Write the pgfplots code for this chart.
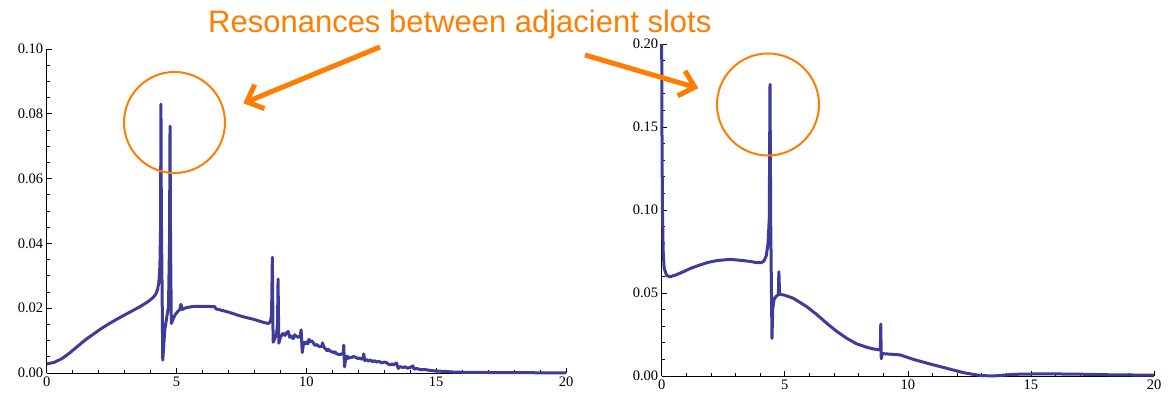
\documentclass[border=0pt]{standalone}
\usepackage{fontspec}
\setmainfont{Liberation Serif}
\newfontfamily\arialfont{Liberation Sans}
\newfontfamily\timesfont{Liberation Serif}
\usepackage{pgfplots}
\pgfplotsset{compat=1.18}
\usetikzlibrary{arrows.meta}
\definecolor{mathblue}{rgb}{0.24,0.24,0.6}
\definecolor{annorange}{RGB}{255,125,0}

\pgfplotsset{mstyle/.style={
  scale only axis, anchor=south west,
  axis x line=bottom, axis y line=left,
  axis line style={-, black, line width=0.7pt},
  tick align=inside, major tick length=5pt, minor tick length=3pt,
  tick style={black, line width=0.6pt},
  xmin=0, xmax=20, ymin=0, clip=false,
  xtick={0,5,10,15,20}, minor x tick num=4,
  scaled y ticks=false,
  /pgf/number format/assume math mode=true,
  xticklabel={\timesfont\pgfmathprintnumber[assume math mode=true]{\tick}},
  yticklabel={\timesfont\pgfmathprintnumber[assume math mode=true,fixed,fixed zerofill,precision=2]{\tick}},
  tick label style={font=\timesfont\fontsize{14.5}{16}\selectfont},
}}

\begin{document}
\begin{tikzpicture}[x=1pt,y=1pt]
\useasboundingbox (0,0) rectangle (1171,398);

\begin{axis}[mstyle, at={(46.7pt,25pt)}, width=519.3pt, height=324pt, ymax=0.1,
  ytick={0,0.02,0.04,0.06,0.08,0.1}, minor y tick num=3]
\addplot[mathblue, line width=3pt, line join=round, no marks] coordinates {
(0,0.0028) (0.3,0.0033) (0.6,0.0045) (0.9,0.0063) (1.2,0.0083) (1.5,0.0103)
(1.8,0.0120) (2.1,0.0137) (2.4,0.0152) (2.7,0.0166) (3.0,0.0179) (3.3,0.0192)
(3.6,0.0205) (3.9,0.0220) (4.1,0.0233) (4.2,0.0243)
(4.27,0.0258) (4.32,0.0280) (4.36,0.0330) (4.385,0.0450) (4.40,0.0830) (4.415,0.0500)
(4.47,0.0040) (4.55,0.0135) (4.62,0.0170) (4.69,0.0205) (4.73,0.0400) (4.75,0.0762)
(4.77,0.0400) (4.80,0.0153) (4.86,0.0165) (4.95,0.0180) (5.05,0.0190) (5.12,0.0195)
(5.17,0.0212) (5.22,0.0196) (5.35,0.0201) (5.6,0.0205) (6.0,0.0206) (6.4,0.0205)
(6.47,0.0205) (6.52,0.0198) (7.0,0.0188) (7.5,0.0175) (8.0,0.0165) (8.4,0.0155)
(8.55,0.0153) (8.62,0.0160) (8.66,0.0180) (8.69,0.0357) (8.72,0.0095) (8.78,0.0105)
(8.85,0.0120) (8.89,0.0150) (8.91,0.0290) (8.94,0.0092) (9.0,0.0110) (9.1,0.0122)
(9.18,0.0116) (9.23,0.0124) (9.3,0.0128) (9.36,0.0110) (9.42,0.0114) (9.49,0.0106)
(9.55,0.0118) (9.62,0.0113) (9.7,0.0110) (9.76,0.0114) (9.80,0.0133) (9.84,0.0063)
(9.9,0.0095) (9.96,0.0090) (10.0,0.0096) (10.06,0.0090) (10.1,0.0104) (10.15,0.0097)
(10.2,0.0100) (10.27,0.0093) (10.33,0.0085) (10.4,0.0088) (10.45,0.0084) (10.53,0.0081)
(10.6,0.0083) (10.62,0.0093) (10.68,0.0079) (10.74,0.0075) (10.79,0.0069) (10.85,0.0073)
(10.9,0.0068) (10.97,0.0066) (11.04,0.0063) (11.1,0.0066) (11.15,0.0060) (11.22,0.0058)
(11.28,0.0056) (11.35,0.0059) (11.42,0.0058) (11.44,0.0086) (11.47,0.0019) (11.52,0.0048)
(11.57,0.0052) (11.61,0.0045) (11.68,0.0049) (11.75,0.0048) (11.82,0.0051) (11.93,0.0047)
(12.0,0.0044) (12.05,0.0047) (12.12,0.0043) (12.19,0.0044) (12.21,0.0059) (12.25,0.0038)
(12.32,0.0041) (12.4,0.0037) (12.47,0.0040) (12.55,0.0035) (12.62,0.0038) (12.7,0.0034)
(12.8,0.0036) (12.9,0.0031) (13.0,0.0034) (13.09,0.0032) (13.15,0.0028) (13.22,0.0025)
(13.3,0.0028) (13.35,0.0025) (13.47,0.0031) (13.54,0.0014) (13.6,0.0020) (13.7,0.0017)
(13.8,0.0019) (13.9,0.0015) (14.0,0.0017) (14.1,0.0022) (14.15,0.0012) (14.25,0.0014)
(14.4,0.0010) (14.55,0.0011) (14.76,0.0008) (15.0,0.0006) (15.3,0.0005) (15.65,0.0003)
(16.16,0.0002) (17.0,0.00015) (18.0,0.0001) (19.0,0.00007) (20,0.00005)
};
\end{axis}

\begin{axis}[mstyle, at={(661.7pt,22pt)}, width=492.3pt, height=332pt, ymax=0.2,
  ytick={0,0.05,0.1,0.15,0.2}, minor y tick num=4]
\addplot[mathblue, line width=3pt, line join=round, no marks] coordinates {
(0,0.2) (0.01,0.15) (0.03,0.10) (0.06,0.075) (0.1,0.065) (0.2,0.0605) (0.34,0.0598)
(0.6,0.0610) (0.88,0.0628) (1.2,0.0650) (1.56,0.0669) (1.9,0.0685) (2.24,0.0695)
(2.78,0.0703) (3.32,0.0695) (3.6,0.0690) (3.86,0.0683) (4.05,0.0683) (4.15,0.0692)
(4.25,0.0725) (4.32,0.0800) (4.37,0.0950) (4.40,0.1757) (4.43,0.0900) (4.48,0.0227)
(4.51,0.0400) (4.56,0.0460) (4.65,0.0480) (4.74,0.0490) (4.76,0.0628) (4.79,0.0495)
(4.85,0.0490) (4.97,0.0488) (5.35,0.0468) (5.89,0.0418) (6.3,0.0370) (6.71,0.0317)
(7.1,0.0270) (7.52,0.0227) (7.9,0.0195) (8.33,0.0173) (8.6,0.0163) (8.88,0.0157)
(8.90,0.0313) (8.92,0.0104) (8.96,0.0135) (9.14,0.0133) (9.69,0.0127) (10.23,0.0100)
(10.91,0.0072) (11.59,0.0046) (12.26,0.0020) (12.94,0.0003) (13.48,0.0) (14.29,0.0010)
(15.0,0.0012) (15.6,0.0013) (16.95,0.0011) (18.3,0.0007) (20,0.0005)
};
\end{axis}

% annotations
\node[anchor=base west, inner sep=0pt, text=annorange, font=\arialfont\fontsize{31}{34}\selectfont]
  at (208,365.7) {Resonances between adjacient slots};
\draw[annorange, line width=2pt] (174.5,275.5) circle (50.5);
\draw[annorange, line width=2pt] (768,293.5) circle (51);
\draw[annorange, line width=5pt, -{Straight Barb[length=14pt,width=26pt]}] (380,351) -- (243.3,294.7);
\draw[annorange, line width=5pt, -{Straight Barb[length=14pt,width=26pt]}] (585,343) -- (698.3,309.7);
\end{tikzpicture}
\end{document}
